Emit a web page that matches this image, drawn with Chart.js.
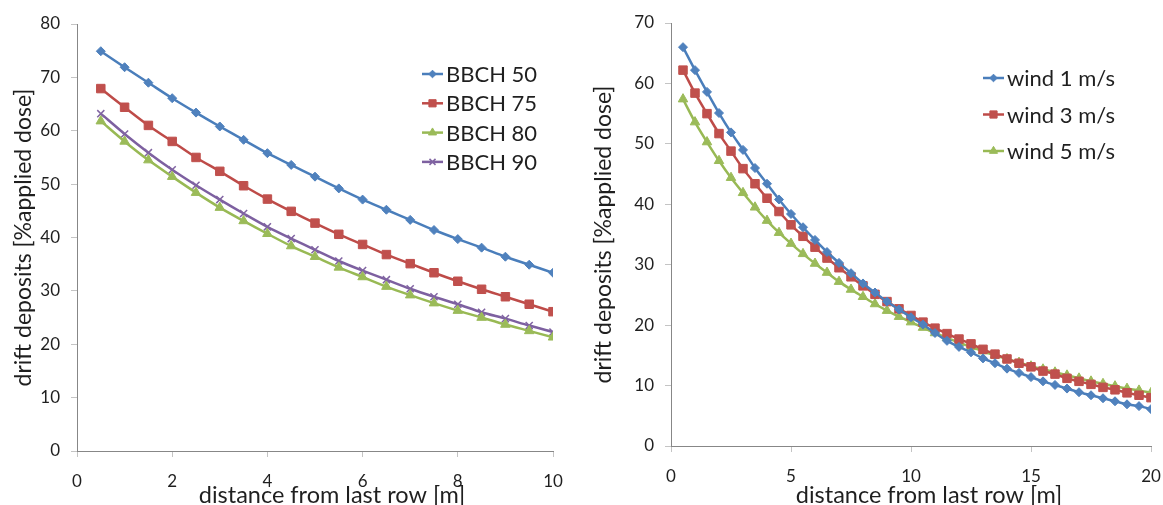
<!DOCTYPE html>
<html><head><meta charset="utf-8">
<script src="https://cdn.jsdelivr.net/npm/chart.js@4.4.1/dist/chart.umd.min.js"></script>
<style>
html,body{margin:0;padding:0;background:#fff;overflow:hidden}
#w1{position:absolute;left:0;top:0;width:580px;height:505px}
#w2{position:absolute;left:580px;top:0;width:583px;height:505px}
</style></head><body>
<div id="w1"><canvas id="c1"></canvas></div>
<div id="w2"><canvas id="c2"></canvas></div>
<script>
// ---------- data ----------
const distLeft = [0.5,1,1.5,2,2.5,3,3.5,4,4.5,5,5.5,6,6.5,7,7.5,8,8.5,9,9.5,10];
const bbch50 = [74.9,71.9,69.0,66.1,63.4,60.8,58.3,55.8,53.6,51.4,49.2,47.1,45.2,43.3,41.4,39.7,38.1,36.4,34.9,33.4];
const bbch75 = [67.9,64.4,61.0,58.0,55.0,52.4,49.7,47.2,44.9,42.7,40.6,38.7,36.8,35.1,33.4,31.8,30.3,28.9,27.5,26.1];
const bbch80 = [61.8,58.0,54.5,51.4,48.4,45.6,43.1,40.7,38.4,36.4,34.4,32.6,30.8,29.2,27.7,26.3,25.0,23.7,22.5,21.3];
const bbch90 = [63.2,59.4,55.9,52.7,49.8,47.1,44.5,42.0,39.8,37.7,35.6,33.8,32.1,30.4,28.9,27.5,26.0,24.8,23.5,22.3];

const distRight = [0.5,1,1.5,2,2.5,3,3.5,4,4.5,5,5.5,6,6.5,7,7.5,8,8.5,9,9.5,10,
                   10.5,11,11.5,12,12.5,13,13.5,14,14.5,15,15.5,16,16.5,17,17.5,18,18.5,19,19.5,20];
const wind1 = [66.0,62.2,58.6,55.1,51.9,49.0,46.0,43.4,40.8,38.4,36.2,34.1,32.1,30.3,28.6,26.9,25.4,23.9,22.6,21.3,
               20.1,18.7,17.4,16.4,15.5,14.5,13.7,12.8,12.1,11.4,10.7,10.1,9.5,8.9,8.4,7.9,7.4,6.9,6.6,6.1];
const wind3 = [62.2,58.4,55.0,51.7,48.8,45.9,43.4,41.0,38.8,36.6,34.7,32.9,31.1,29.5,28.0,26.5,25.1,23.9,22.7,21.6,
               20.5,19.5,18.6,17.7,16.9,16.0,15.2,14.4,13.7,13.1,12.4,11.9,11.2,10.7,10.2,9.7,9.3,8.8,8.4,8.0];
const wind5 = [57.4,53.6,50.3,47.2,44.4,41.9,39.5,37.3,35.3,33.5,31.8,30.2,28.7,27.2,25.9,24.7,23.5,22.4,21.4,20.5,
               19.6,18.7,17.9,17.1,16.4,15.7,15.0,14.4,13.8,13.2,12.7,12.2,11.7,11.2,10.7,10.3,9.9,9.5,9.2,8.8];

const leftLabels = ['BBCH 50','BBCH 75','BBCH 80','BBCH 90'];
const rightLabels = ['wind 1 m/s','wind 3 m/s','wind 5 m/s'];
const xTitleText = 'distance from last row [m]';
const yTitleText = 'drift deposits [%applied dose]';

// ---------- styles ----------
const FONT = 'Lato, "Open Sans", sans-serif';
const TEXT = '#1f1f1f';
const STY = {
  blue:   {line:'#4A7EBB', mark:'#4F81BD', style:'rectRot', r:4.5},
  red:    {line:'#BE4B48', mark:'#C0504D', style:'rect', r:6},
  green:  {line:'#98B954', mark:'#9BBB59', style:'triangle', r:5.5},
  purple: {line:'#7D60A0', mark:'#8064A2', style:'crossRot', r:5}
};

function series(xs, ys, label, s) {
  return {
    label, data: xs.map((x,i)=>({x, y: ys[i]})),
    borderColor: s.line, backgroundColor: s.mark, borderWidth: 2.5,
    pointStyle: s.style, pointRadius: s.r, pointHoverRadius: s.r,
    pointBackgroundColor: s.mark, pointBorderColor: s.mark, pointBorderWidth: s.style==='crossRot'?1.5:1,
    tension: 0.3, fill: false
  };
}

function overlay(cfg) {
  return { id: 'overlay', afterDraw(chart) {
    const ctx = chart.ctx, ca = chart.chartArea;
    ctx.save();
    ctx.fillStyle = TEXT;
    ctx.font = cfg.titleSize + 'px ' + FONT;
    ctx.textAlign = 'center'; ctx.textBaseline = 'alphabetic';
    ctx.fillText(xTitleText, (ca.left + ca.right)/2 + cfg.titleShift, cfg.titleBaseline);
    chart.data.datasets.forEach((ds, i) => {
      const y = cfg.legTop + i*cfg.legGap;
      ctx.strokeStyle = ds.borderColor; ctx.lineWidth = 2.5;
      ctx.beginPath(); ctx.moveTo(cfg.legX, y); ctx.lineTo(cfg.legX + cfg.legLen, y); ctx.stroke();
      ctx.fillStyle = ds.pointBackgroundColor; ctx.strokeStyle = ds.pointBorderColor; ctx.lineWidth = ds.pointBorderWidth;
      Chart.helpers.drawPoint(ctx, {pointStyle: ds.pointStyle, radius: ds.pointRadius*0.85, rotation: 0, borderWidth: ds.pointBorderWidth}, cfg.legX + cfg.legLen/2, y);
      ctx.fillStyle = TEXT;
      ctx.font = cfg.legSize + 'px ' + FONT;
      ctx.textAlign = 'left'; ctx.textBaseline = 'middle';
      ctx.fillText(ds.label, cfg.legX + cfg.legLen + 3, y + 1);
    });
    ctx.restore();
  }};
}

function makeChart(id, datasets, xmax, xstep, ymax, yW, xH, pad, ov) {
  return new Chart(document.getElementById(id), {
    type: 'line',
    data: { datasets },
    plugins: [overlay(ov)],
    options: {
      responsive: true, maintainAspectRatio: false, animation: false, devicePixelRatio: 1,
      layout: { padding: pad },
      plugins: { legend: {display:false}, tooltip: {enabled:false} },
      scales: {
        x: {
          type: 'linear', min: 0, max: xmax,
          ticks: { stepSize: xstep, color: TEXT, font: {family: FONT, size: 17}, padding: 14, maxRotation: 0 },
          grid: { display: true, drawOnChartArea: false, drawTicks: true, tickLength: 6, tickColor: '#c4c4c4' },
          border: { display: true, color: '#878787', width: 1 },
          afterFit: s => { s.height = xH; s.paddingLeft = 0; s.paddingRight = 0; }
        },
        y: {
          min: 0, max: ymax,
          ticks: { stepSize: 10, color: TEXT, font: {family: FONT, size: 17}, padding: 11 },
          grid: { display: true, drawOnChartArea: false, drawTicks: true, tickLength: 6, tickColor: '#c4c4c4' },
          border: { display: true, color: '#878787', width: 1 },
          title: { display: true, text: yTitleText, color: TEXT, font: {family: FONT, size: 23}, padding: {top: 10, bottom: 0} },
          afterFit: s => { s.width = yW; s.paddingTop = 0; s.paddingBottom = 0; }
        }
      }
    }
  });
}

makeChart('c1', [
  series(distLeft, bbch50, leftLabels[0], STY.blue),
  series(distLeft, bbch75, leftLabels[1], STY.red),
  series(distLeft, bbch80, leftLabels[2], STY.green),
  series(distLeft, bbch90, leftLabels[3], STY.purple)
], 10, 2, 80, 77, 54, {left:0, right:27, top:24, bottom:0},
  {titleSize:23.5, titleShift:17, titleBaseline:503, legX:422, legLen:21, legTop:74, legGap:29.3, legSize:22});

makeChart('c2', [
  series(distRight, wind1, rightLabels[0], STY.blue),
  series(distRight, wind3, rightLabels[1], STY.red),
  series(distRight, wind5, rightLabels[2], STY.green)
], 20, 5, 70, 91, 59, {left:0, right:12, top:23, bottom:0},
  {titleSize:23.5, titleShift:18, titleBaseline:503, legX:403, legLen:21, legTop:78, legGap:36.5, legSize:22});
</script>
</body></html>
